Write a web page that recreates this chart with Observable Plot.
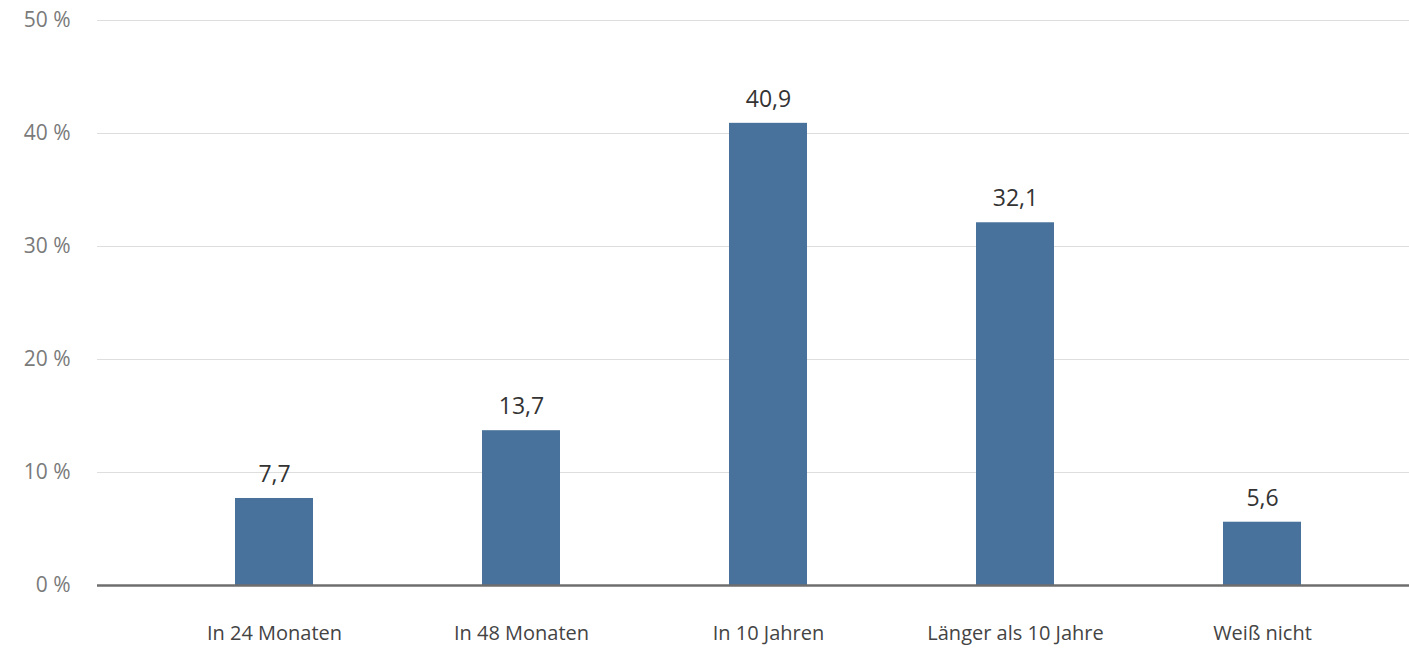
<!DOCTYPE html>
<html><head><meta charset="utf-8">
<script src="https://cdn.jsdelivr.net/npm/d3@7"></script>
<script src="https://cdn.jsdelivr.net/npm/@observablehq/plot@0.6"></script>
<style>
body{margin:0;background:#fff;}
svg{font-family:"Open Sans",sans-serif;}
</style></head>
<body><div id="chart"></div>
<script>
const categories = ["In 24 Monaten", "In 48 Monaten", "In 10 Jahren", "Länger als 10 Jahre", "Weiß nicht"];
const values = [7.7, 13.7, 40.9, 32.1, 5.6];
const yTicks = [0, 10, 20, 30, 40, 50];

const data = categories.map((c, i) => ({cat: c, value: values[i]}));
const fmt = v => d3.format(".1f")(v).replace(".", ",");

const chart = Plot.plot({
  width: 1409,
  height: 648,
  marginLeft: 97,
  marginRight: 0,
  marginTop: 20,
  marginBottom: 63,
  style: {fontFamily: "Open Sans, sans-serif", background: "#fff"},
  x: {domain: categories, paddingInner: 0.684, paddingOuter: 0.49, align: 0.56, label: null},
  y: {domain: [0, 50], label: null},
  marks: [
    Plot.ruleY(yTicks.filter(d => d > 0), {stroke: "#dedede", strokeWidth: 1}),
    Plot.axisY({ticks: yTicks, tickSize: 0, tickPadding: 27, tickFormat: d => d + " %", fontSize: 21, fill: "#7a7a7a", label: null}),
    Plot.axisX({tickSize: 0, tickPadding: 40, fontSize: 20, fill: "#444", label: null}),
    Plot.barY(data, {x: "cat", y: "value", fill: "#48729b"}),
    Plot.ruleY([0], {stroke: "#6e6e6e", strokeWidth: 2.5}),
    Plot.text(data, {x: "cat", y: "value", text: d => fmt(d.value), dy: -24, fontSize: 23, fill: "#333"})
  ]
});
document.getElementById("chart").appendChild(chart);
</script>
</body></html>
